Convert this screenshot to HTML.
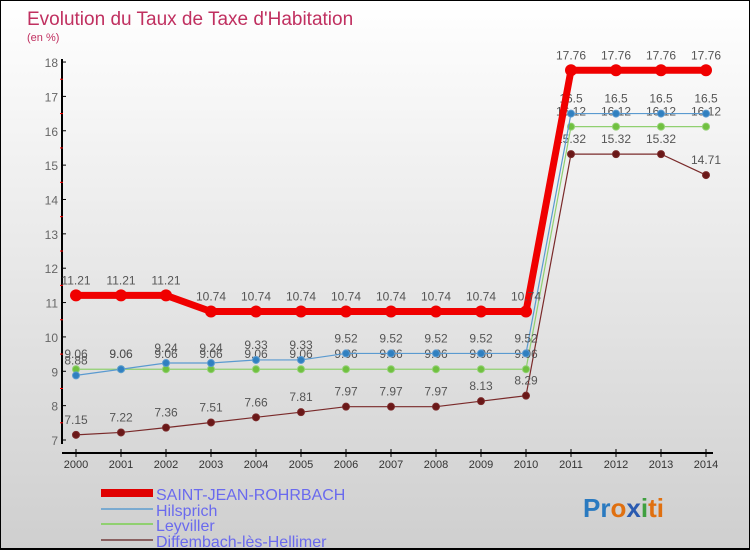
<!DOCTYPE html>
<html><head><meta charset="utf-8"><style>
body{margin:0}
#c{width:750px;height:550px;position:relative;box-sizing:border-box;border:1px solid #000;border-bottom:2px solid #000;background:linear-gradient(#fff,#cfcfcf);font-family:"Liberation Sans",sans-serif;overflow:hidden}
</style></head><body>
<div id="c">
<svg id="s" width="750" height="550" style="position:absolute;left:0;top:0">
<text x="26" y="24" font-size="19" fill="#c03060" font-weight="300">Evolution du Taux de Taxe d'Habitation</text>
<text x="26" y="40" font-size="11" fill="#c03060">(en %)</text>
<g id="ax"></g><g id="ser"></g>
<g font-size="16" fill="#6a6aee">
<rect x="100" y="488" width="52" height="8" fill="#e00000"/>
<text x="155" y="499">SAINT-JEAN-ROHRBACH</text>
<rect x="100" y="507" width="52" height="2" fill="#7aaad0"/>
<text x="155" y="515">Hilsprich</text>
<rect x="100" y="522" width="52" height="2" fill="#90d070"/>
<text x="155" y="530">Leyviller</text>
<rect x="100" y="538" width="52" height="2" fill="#8a6060"/>
<text x="155" y="546">Diffembach-lès-Hellimer</text>
</g>
<text x="582" y="516" font-size="26" font-weight="bold"><tspan fill="#2a7ac0">Pr</tspan><tspan fill="#e07010">o</tspan><tspan fill="#2a5ab0">x</tspan><tspan fill="#40a040">i</tspan><tspan fill="#e07010">ti</tspan></text>
</svg>
</div>
<script>
const years=[2000,2001,2002,2003,2004,2005,2006,2007,2008,2009,2010,2011,2012,2013,2014];
const yTicks=[7,8,9,10,11,12,13,14,15,16,17,18];
const sjr=[11.21,11.21,11.21,10.74,10.74,10.74,10.74,10.74,10.74,10.74,10.74,17.76,17.76,17.76,17.76];
const hil=[8.88,9.06,9.24,9.24,9.33,9.33,9.52,9.52,9.52,9.52,9.52,16.5,16.5,16.5,16.5];
const ley=[9.06,9.06,9.06,9.06,9.06,9.06,9.06,9.06,9.06,9.06,9.06,16.12,16.12,16.12,16.12];
const dif=[7.15,7.22,7.36,7.51,7.66,7.81,7.97,7.97,7.97,8.13,8.29,15.32,15.32,15.32,14.71];
const NS="http://www.w3.org/2000/svg";
const X=i=>75+i*45, Y=v=>439-(v-7)*34.36;
function el(t,a,p){const e=document.createElementNS(NS,t);for(const k in a)e.setAttribute(k,a[k]);p.appendChild(e);return e;}
const ax=document.getElementById('ax'),ser=document.getElementById('ser');
const yl=el('line',{x1:61,y1:58,x2:61,y2:443,stroke:'#000','stroke-width':2},ax);


const xl=el('line',{x1:61,y1:452,x2:712,y2:452,stroke:'#000','stroke-width':2},ax);


yTicks.forEach(v=>{
 el('line',{x1:61,x2:65,y1:Y(v),y2:Y(v),stroke:'#000'},ax);
 if(v<18)el('line',{x1:59,x2:62,y1:Y(v+0.5),y2:Y(v+0.5),stroke:'#f00'},ax);
 const t=el('text',{x:57,y:Y(v)+5,'font-size':12,fill:'#666','text-anchor':'end'},ax);t.textContent=v;
 
 
});
years.forEach((y,i)=>{
 el('line',{x1:X(i),x2:X(i),y1:448,y2:456,stroke:'#000'},ax);
 const t=el('text',{x:X(i),y:467,'font-size':11,fill:'#333','text-anchor':'middle'},ax);t.textContent=y;
 
 
});
function series(d,col,w,r,dot,name){
 const g=el('g',{},ser);
 
 
 el('polyline',{points:d.map((v,i)=>X(i)+','+Y(v)).join(' '),fill:'none',stroke:col,'stroke-width':w},g);
 d.forEach((v,i)=>{
  const c=el('circle',{cx:X(i),cy:Y(v),r:r,fill:dot,stroke:col,'stroke-width':1},g);
  
  
  const t=el('text',{x:X(i),y:Y(v)-11,'font-size':12,fill:'#555','text-anchor':'middle'},g);t.textContent=v;
 });
}
series(dif,'#7a2a2a',1.2,3.5,'#6a1818','series-diffembach');
series(ley,'#90d070',1.2,3.5,'#70c040','series-leyviller');
series(hil,'#5a9ad0',1.2,3.5,'#3080c0','series-hilsprich');
series(sjr,'#f00000',7,5.5,'#f00000','series-saint-jean-rohrbach');
</script>
</body></html>
